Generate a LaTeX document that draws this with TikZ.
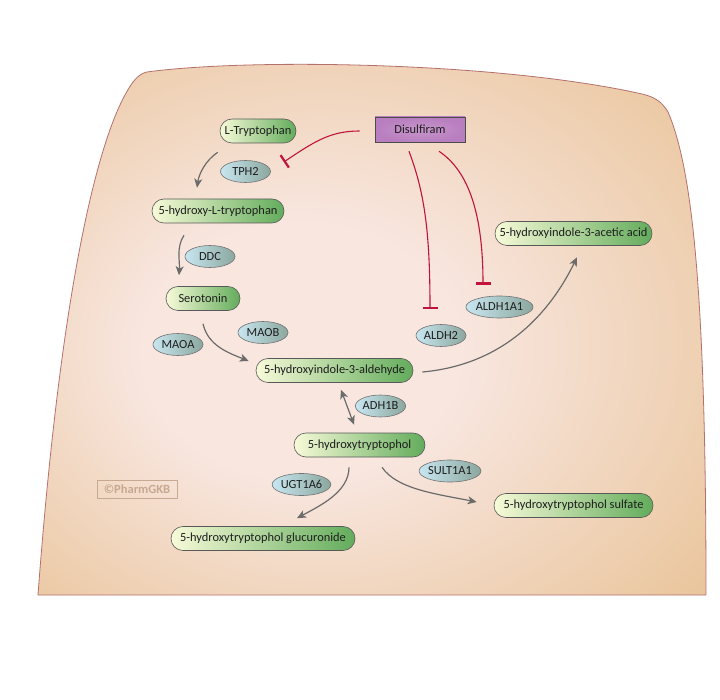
\documentclass[tikz,border=0pt]{standalone}
\usepackage{fontspec}
\setmainfont{Carlito}
\usetikzlibrary{arrows.meta,shapes.geometric,calc}
\definecolor{cellin}{HTML}{F8E6DF}
\definecolor{cellout}{HTML}{E6BD8B}
\definecolor{cellline}{HTML}{B5706E}
\definecolor{mleft}{HTML}{F7FAD8}
\definecolor{mright}{HTML}{63AC5C}
\definecolor{eleft}{HTML}{C8E6F0}
\definecolor{eright}{HTML}{8BA79E}
\definecolor{drug}{HTML}{B87EBF}
\definecolor{druglight}{HTML}{C896CC}
\definecolor{inh}{HTML}{C0143C}
\definecolor{arrc}{HTML}{6B6B6B}
\definecolor{txt}{HTML}{1E1E1E}
\definecolor{wm}{HTML}{C6A990}
\pgfdeclareradialshading{cellshade}{\pgfpoint{-7bp}{-3bp}}{color(0bp)=(cellin); color(12bp)=(cellin); color(42bp)=(cellout); color(50bp)=(cellout)}
\newcommand{\fsz}{\fontsize{12.4}{14}\selectfont}
\tikzset{
  metab/.style={draw=black!65, line width=0.6pt, rounded corners=12pt, left color=mleft, right color=mright, minimum height=24pt, inner xsep=2pt, inner ysep=0pt, font=\fsz, text=txt},
  enz/.style={ellipse, draw=black!55, line width=0.6pt, left color=eleft, right color=eright, minimum width=50pt, minimum height=22pt, inner sep=0pt, font=\fsz, text=txt},
  drugbox/.style={draw=black!70, line width=0.6pt, inner color=druglight, outer color=drug, minimum width=90pt, minimum height=25pt, inner sep=0pt, font=\fsz, text=txt},
  arr/.style={draw=arrc, line width=1.2pt, -{Stealth[length=9pt,width=8pt,inset=2.5pt]}},
  darr/.style={draw=arrc, line width=1.2pt, {Stealth[length=9pt,width=8pt,inset=2.5pt]}-{Stealth[length=9pt,width=8pt,inset=2.5pt]}},
  inhib/.style={draw=inh, line width=1.1pt, -{Bar[width=15pt,line width=2.2pt]}}
}
\begin{document}
\begin{tikzpicture}[x=1pt,y=-1pt]
\useasboundingbox (0,0) rectangle (720,700);
\fill[white] (0,0) rectangle (720,700);
% cell
\path[shading=cellshade, draw=cellline, line width=0.8pt]
  (147,72) .. controls (250,58) and (500,62) .. (642,94)
  .. controls (655,97) and (662,102) .. (668,112)
  .. controls (693,170) and (706,300) .. (706,595)
  -- (38,595)
  .. controls (60,300) and (95,150) .. (125,95)
  .. controls (132,82) and (138,74) .. (147,72) -- cycle;
% watermark
\node[draw=wm, line width=0.8pt, text=wm, font=\bfseries\fontsize{12.5}{14}\selectfont, minimum width=80pt, minimum height=18pt, inner sep=0pt] (wmk) at (137,489) {©PharmGKB};
% metabolites
\node[metab, minimum width=76pt] (ltrp) at (258,131) {L-Tryptophan};
\node[metab, minimum width=132pt] (htp) at (218,211) {5-hydroxy-L-tryptophan};
\node[metab, minimum width=74pt] (ser) at (203,298.5) {Serotonin};
\node[metab, minimum width=157pt] (ald) at (334.5,370.5) {5-hydroxyindole-3-aldehyde};
\node[metab, minimum width=131pt] (oh) at (359.5,445) {5-hydroxytryptophol};
\node[metab, minimum width=184pt] (gluc) at (263,538.5) {5-hydroxytryptophol glucuronide};
\node[metab, minimum width=159pt] (sulf) at (573.5,505.5) {5-hydroxytryptophol sulfate};
\node[metab, minimum width=157pt] (acid) at (573.5,233.5) {5-hydroxyindole-3-acetic acid};
% enzymes
\node[enz] (tph2) at (245.5,171.5) {TPH2};
\node[enz] (ddc) at (210,256.5) {DDC};
\node[enz] (maoa) at (178,344.5) {MAOA};
\node[enz] (maob) at (263,332.5) {MAOB};
\node[enz] (aldh2) at (441,335.5) {ALDH2};
\node[enz, minimum width=51pt] (aldha) at (499.5,307) {ALDH1A1};
\node[enz] (adh) at (380.5,406) {ADH1B};
\node[enz] (sult) at (450,471) {SULT1A1};
\node[enz] (ugt) at (301.5,484.5) {UGT1A6};
% drug
\node[drugbox] (dis) at (420,129.5) {Disulfiram};
% reactions
\draw[arr] ($(ltrp.south west)+(-2,9)$) .. controls +(-12,8) and +(2,-14) .. ($(htp.north)+(-21,-11)$);
\draw[arr] ($(htp.south)+(-34,12)$) .. controls +(-8,12) and +(1,-14) .. ($(ser.north)+(-24,-11)$);
\draw[arr] ($(ser.south)+(0,13)$) .. controls +(5,22) and +(-20,-8) .. ($(ald.west)+(-7,-9.5)$);
\draw[arr] ($(ald.east)+(9,1.5)$) .. controls +(90,-8) and +(-22,45) .. ($(acid.south)+(3.5,11.5)$);
\draw[darr] ($(ald.south)+(6.5,7)$) -- ($(oh.north)+(-5.5,-8)$);
\draw[arr] ($(oh.south)+(-10.5,10)$) .. controls +(0,25) and +(22,-12) .. ($(gluc.north)+(34,-8)$);
\draw[arr] ($(oh.south)+(22.5,10)$) .. controls +(15,22) and +(-40,-8) .. ($(sulf.west)+(-17,-3.5)$);
% inhibitions
\draw[inhib] ($(dis.west)+(-15,1.5)$) .. controls +(-30,0) and +(30,-20) .. ($(tph2.east)+(13,-9.5)$);
\draw[inhib] ($(dis.south)+(-11,9)$) .. controls +(15,40) and +(0,-80) .. ($(aldh2.north)+(-11,-15)$);
\draw[inhib] ($(dis.south)+(19,9)$) .. controls +(30,20) and +(0,-70) .. ($(aldha.north)+(-16.5,-11)$);
\end{tikzpicture}
\end{document}
